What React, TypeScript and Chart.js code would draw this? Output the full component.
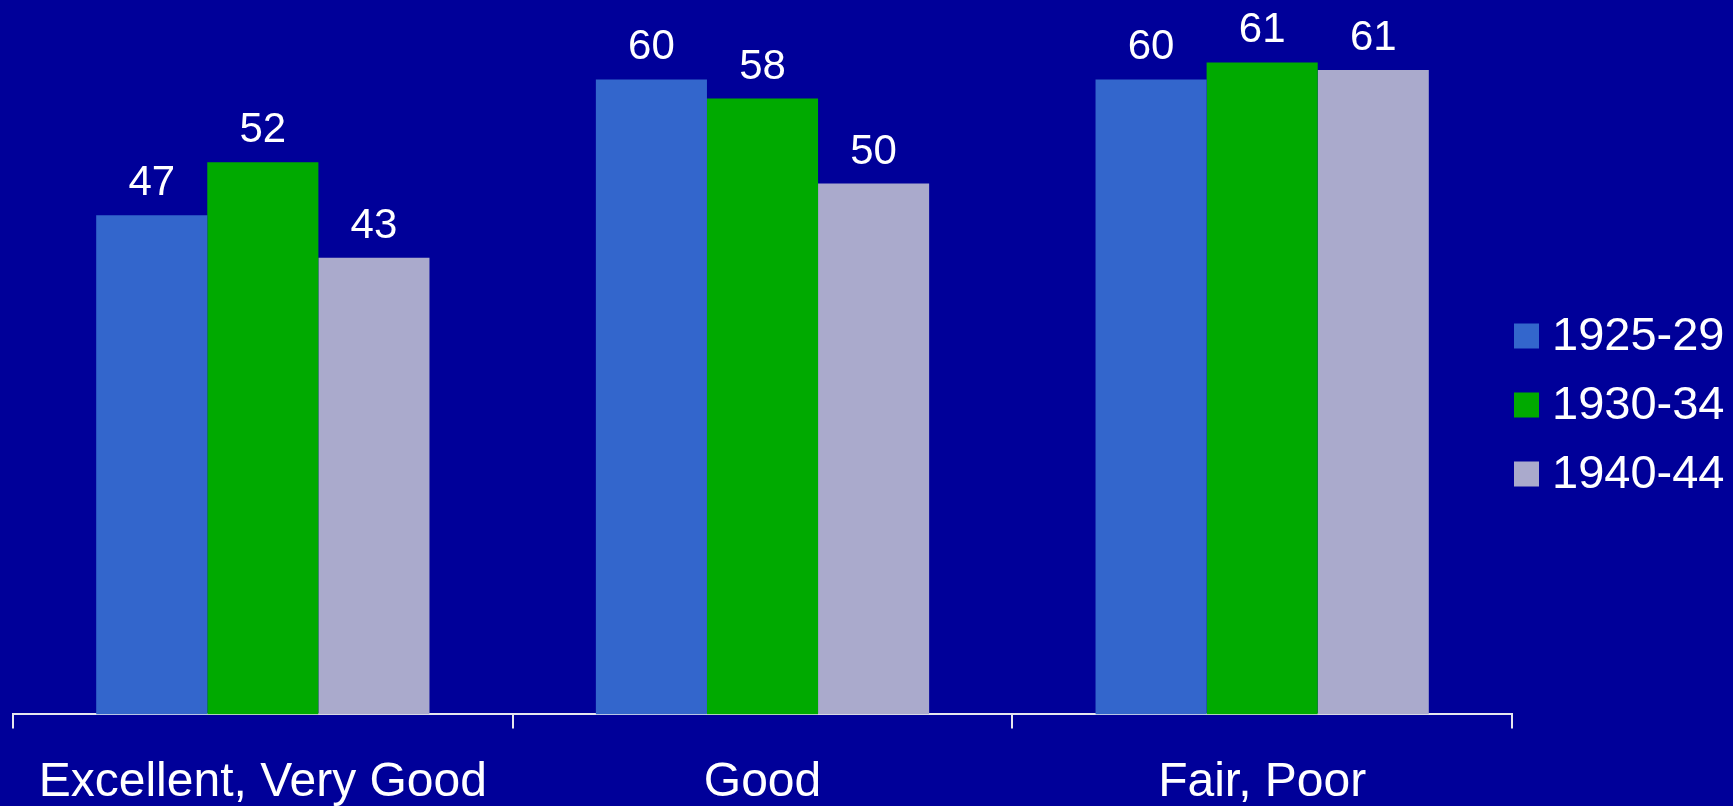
import React, { useEffect, useRef } from "react";
import { Chart, registerables } from "chart.js";

Chart.register(...registerables);

const categories = ["Excellent, Very Good", "Good", "Fair, Poor"];
const seriesNames = ["1925-29", "1930-34", "1940-44"];
const series1925 = [47, 59.8, 59.8];
const series1930 = [52, 58, 61.4];
const series1940 = [43, 50, 60.7];
const seriesColors = ["#3366CC", "#00AA00", "#AAAACC"];
const yMax = 67;

const FONT = "'Liberation Sans', Arial, sans-serif";
const BG = "#000099";

const valueLabels = {
  id: "valueLabels",
  afterDatasetsDraw(chart: any) {
    const ctx = chart.ctx;
    ctx.save();
    ctx.fillStyle = "#ffffff";
    ctx.font = `42px ${FONT}`;
    ctx.textAlign = "center";
    ctx.textBaseline = "alphabetic";
    chart.data.datasets.forEach((ds: any, di: number) => {
      const meta = chart.getDatasetMeta(di);
      meta.data.forEach((bar: any, i: number) => {
        const v = ds.data[i];
        ctx.fillText(String(Math.round(v)), bar.x, bar.y - 20);
      });
    });
    ctx.restore();
  },
};

const customLegend = {
  id: "customLegend",
  afterDraw(chart: any) {
    const ctx = chart.ctx;
    const area = chart.chartArea;
    const n = chart.data.datasets.length;
    const rowGap = 69;
    const centerY = chart.height / 2 + 2;
    const box = 25;
    const boxX = area.right + 2;
    ctx.save();
    ctx.font = `47px ${FONT}`;
    ctx.textAlign = "left";
    ctx.textBaseline = "middle";
    chart.data.datasets.forEach((ds: any, i: number) => {
      const cy = centerY + (i - (n - 1) / 2) * rowGap;
      ctx.fillStyle = ds.backgroundColor;
      ctx.fillRect(boxX, cy - box / 2, box, box);
      ctx.fillStyle = "#ffffff";
      ctx.fillText(ds.label, boxX + 38, cy + 1);
    });
    ctx.restore();
  },
};

export default function App() {
  const canvasRef = useRef<HTMLCanvasElement | null>(null);

  useEffect(() => {
    document.body.style.margin = "0";
    document.body.style.background = BG;
    const canvas = canvasRef.current;
    if (!canvas) return;
    const chart = new Chart(canvas, {
      type: "bar",
      data: {
        labels: categories,
        datasets: [series1925, series1930, series1940].map((d, i) => ({
          label: seriesNames[i],
          data: d,
          backgroundColor: seriesColors[i],
          borderWidth: 0,
          categoryPercentage: 0.667,
          barPercentage: 1.0,
        })),
      },
      options: {
        animation: false,
        responsive: false,
        maintainAspectRatio: false,
        layout: { padding: { top: 3, left: 13, right: 221, bottom: -32 } },
        plugins: {
          legend: { display: false },
          tooltip: { enabled: false },
          title: { display: false },
        },
        scales: {
          x: {
            grid: {
              display: true,
              offset: true,
              drawOnChartArea: false,
              drawTicks: true,
              tickLength: 14,
              color: "#e6e6ee",
              lineWidth: 2,
            },
            border: { display: true, color: "#e6e6ee", width: 2 },
            ticks: {
              color: "#ffffff",
              font: { family: FONT, size: 48 },
              padding: 26,
              maxRotation: 0,
              autoSkip: false,
            },
          },
          y: {
            display: false,
            min: 0,
            max: yMax,
          },
        },
      },
      plugins: [valueLabels, customLegend],
    });
    return () => chart.destroy();
  }, []);

  return (
    <div
      style={{
        position: "fixed",
        left: 0,
        top: 0,
        width: 1733,
        height: 806,
        background: BG,
        overflow: "hidden",
      }}
    >
      <canvas ref={canvasRef} width={1733} height={806} style={{ display: "block" }} />
    </div>
  );
}
